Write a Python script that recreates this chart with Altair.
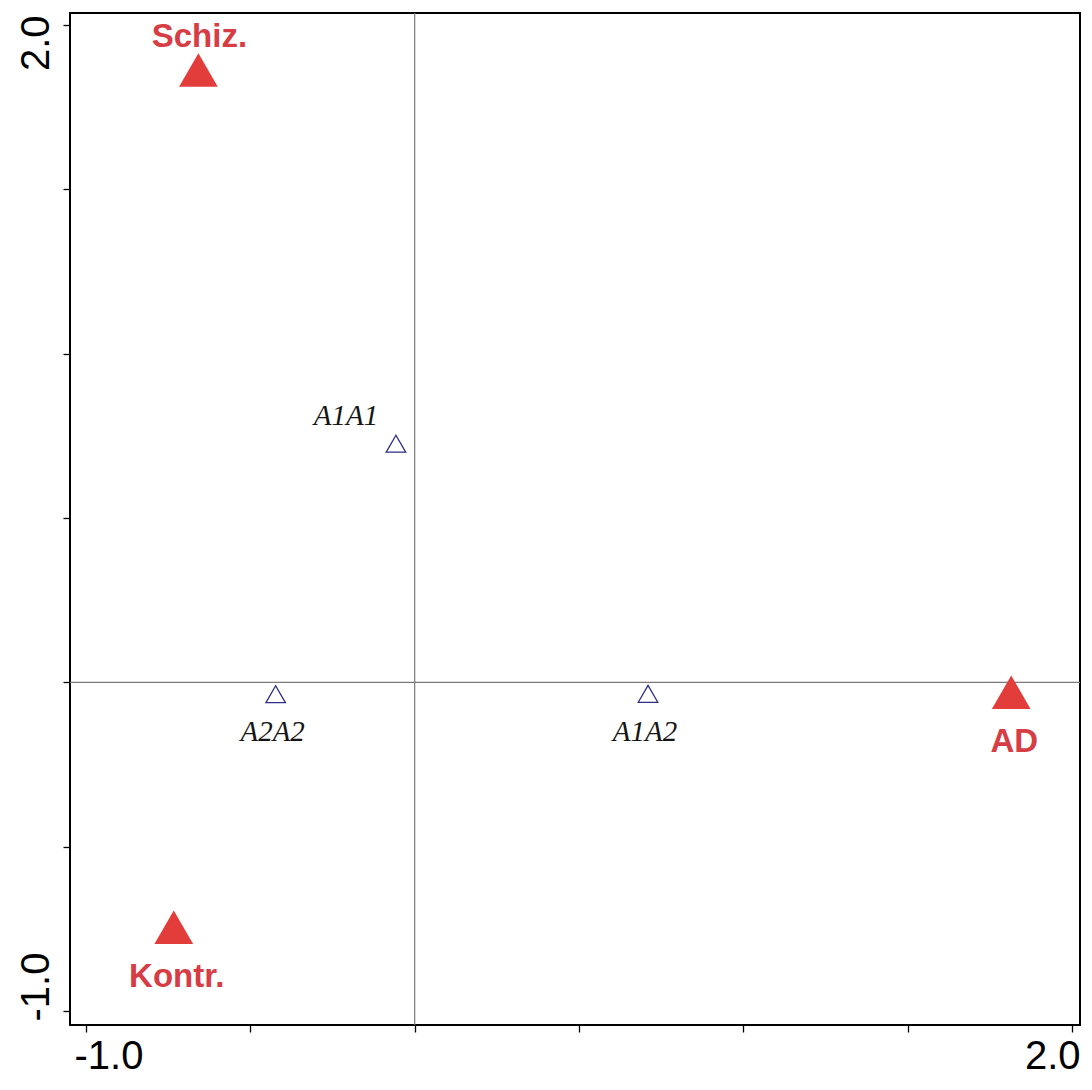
import altair as alt
import pandas as pd

# Red group markers (filled triangles)
groups = ["Schiz.", "Kontr.", "AD"]
group_x = [-0.658, -0.733, 1.815]
group_y = [1.863, -0.745, -0.030]

# Genotype markers (open triangles)
genotypes = ["A1A1", "A2A2", "A1A2"]
geno_x = [-0.057, -0.423, 0.710]
geno_y = [0.726, -0.036, -0.035]

tick_values = [-1.0, -0.5, 0.0, 0.5, 1.0, 1.5, 2.0]
labelled_ticks = [-1.0, 2.0]
zero = [0.0]

gdf = pd.DataFrame({"name": groups, "x": group_x, "y": group_y})
tdf = pd.DataFrame({"name": genotypes, "x": geno_x, "y": geno_y})
zdf = pd.DataFrame({"v": zero})

RED = "#E23D3B"
RED_TXT = "#D63D44"
NAVY = "#2E2E86"

label_expr = (
    "indexof([%s], datum.value) >= 0 ? "
    "((datum.value < 0 ? '-' : '') + format(abs(datum.value), '.1f')) : ''"
) % ",".join(str(v) for v in labelled_ticks)

xscale = alt.Scale(domain=[-1.0487, 2.0243], nice=False, zero=False)
yscale = alt.Scale(domain=[-1.0426, 2.0365], nice=False, zero=False)

xaxis = alt.Axis(
    values=tick_values, title=None, grid=False, domain=False,
    tickSize=7, tickWidth=1.3, tickColor="black",
    labelExpr=label_expr, labelFontSize=40, labelFont="Liberation Sans",
    labelColor="black", labelPadding=36, labelFlush=False, labelOverlap=False,
    labelBaseline="alphabetic",
    labelAlign={"condition": {"test": "datum.value < 0", "value": "left"}, "value": "right"},
    labelOffset={"condition": {"test": "datum.value < 0", "value": -12}, "value": 8},
)
yaxis = alt.Axis(
    values=tick_values, title=None, grid=False, domain=False,
    tickSize=7, tickWidth=1.3, tickColor="black",
    labelExpr=label_expr, labelFontSize=40, labelFont="Liberation Sans",
    labelColor="black", labelPadding=15, labelFlush=False, labelOverlap=False,
    labelAngle=270, labelBaseline="alphabetic",
    labelAlign={"condition": {"test": "datum.value < 0", "value": "left"}, "value": "right"},
    labelOffset={"condition": {"test": "datum.value < 0", "value": 10}, "value": -10},
)

vline = alt.Chart(zdf).mark_rule(color="#7a7a7a", strokeWidth=1.2).encode(
    x=alt.X("v:Q", scale=xscale, axis=xaxis))
hline = alt.Chart(zdf).mark_rule(color="#7a7a7a", strokeWidth=1.2).encode(
    y=alt.Y("v:Q", scale=yscale, axis=yaxis))

base_g = alt.Chart(gdf).encode(
    x=alt.X("x:Q", scale=xscale, axis=xaxis),
    y=alt.Y("y:Q", scale=yscale, axis=yaxis),
)
base_t = alt.Chart(tdf).encode(
    x=alt.X("x:Q", scale=xscale, axis=xaxis),
    y=alt.Y("y:Q", scale=yscale, axis=yaxis),
)

g_pts = base_g.mark_point(shape="triangle-up", filled=True, size=1500,
                          color=RED, opacity=1)
g_lab_above = base_g.transform_filter(alt.datum.name == "Schiz.").mark_text(
    font="Liberation Sans", fontWeight="bold", fontSize=33, color=RED_TXT,
    align="center", baseline="alphabetic", dx=1, dy=-23).encode(text="name:N")
g_lab_below = base_g.transform_filter(alt.datum.name != "Schiz.").mark_text(
    font="Liberation Sans", fontWeight="bold", fontSize=33, color=RED_TXT,
    align="center", baseline="alphabetic", dx=3, dy=60).encode(text="name:N")

t_pts = base_t.mark_point(shape="triangle-up", filled=False, size=380,
                          color=NAVY, strokeWidth=1.3, opacity=1)
t_lab_above = base_t.transform_filter(alt.datum.name == "A1A1").mark_text(
    font="Liberation Serif", fontStyle="italic", fontSize=29, color="#151515",
    align="center", baseline="alphabetic", dx=-50, dy=-19).encode(text="name:N")
t_lab_below = base_t.transform_filter(alt.datum.name != "A1A1").mark_text(
    font="Liberation Serif", fontStyle="italic", fontSize=29, color="#151515",
    align="center", baseline="alphabetic", dx=-3, dy=47).encode(text="name:N")

chart = alt.layer(
    vline, hline, t_pts, t_lab_above, t_lab_below, g_pts, g_lab_above, g_lab_below
).properties(
    width=1010, height=1012,
    autosize=alt.AutoSizeParams(type="none"),
    padding={"left": 62, "top": 5, "right": 4, "bottom": 53},
    background="white",
).configure_view(stroke="black", strokeWidth=2)

chart.save("out.html", embed_options={"renderer": "svg", "actions": False})
